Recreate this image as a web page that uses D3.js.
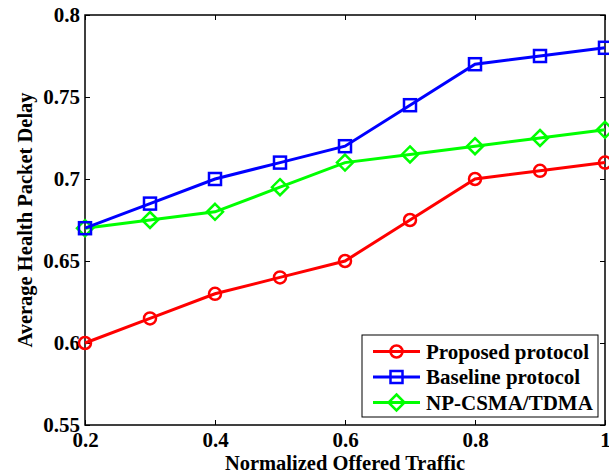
<!DOCTYPE html>
<html><head><meta charset="utf-8">
<script src="https://cdn.jsdelivr.net/npm/d3@7"></script>
<style>body{margin:0;background:#fff}svg{display:block}text{font-family:"Liberation Serif","Times New Roman",serif;font-weight:bold}</style>
</head><body><svg id="c" width="609" height="476"></svg>
<script>
const xValues = [0.2,0.3,0.4,0.5,0.6,0.7,0.8,0.9,1.0];
const proposed = [0.6,0.615,0.63,0.64,0.65,0.675,0.7,0.705,0.71];
const baseline = [0.67,0.685,0.7,0.71,0.72,0.745,0.77,0.775,0.78];
const npcsma = [0.67,0.675,0.68,0.695,0.71,0.715,0.72,0.725,0.73];
const xTicks = [0.2,0.4,0.6,0.8,1];
const yTicks = [0.55,0.6,0.65,0.7,0.75,0.8];
const seriesNames = ["Proposed protocol","Baseline protocol","NP-CSMA/TDMA"];
const seriesColors = ["#ff0000","#0000ff","#00ff00"];
const seriesMarkers = ["circle","square","diamond"];
const seriesData = [proposed, baseline, npcsma];

const svg = d3.select("#c");
const L=85,T=15,R=605,B=425;
const x = d3.scaleLinear().domain([0.2,1]).range([L,R]);
const y = d3.scaleLinear().domain([0.55,0.8]).range([B,T]);

const fmt = d => d===1 ? "1" : String(d);
const tk=5;
svg.append("g").attr("transform",`translate(0,${B})`)
  .call(d3.axisBottom(x).tickValues(xTicks).tickSize(-tk).tickPadding(7).tickFormat(fmt))
  .call(g=>{g.select(".domain").remove();g.selectAll("line").attr("stroke","#000");g.selectAll("text").attr("font-size",21).attr("fill","#000").attr("dy","0.71em");});
svg.append("g").attr("transform",`translate(0,${T})`)
  .call(d3.axisTop(x).tickValues(xTicks).tickSize(-tk).tickFormat(""))
  .call(g=>{g.select(".domain").remove();g.selectAll("line").attr("stroke","#000");});
svg.append("g").attr("transform",`translate(${L},0)`)
  .call(d3.axisLeft(y).tickValues(yTicks).tickSize(-tk).tickPadding(5).tickFormat(d=>String(d)))
  .call(g=>{g.select(".domain").remove();g.selectAll("line").attr("stroke","#000");g.selectAll("text").attr("font-size",21).attr("fill","#000");});
svg.append("g").attr("transform",`translate(${R},0)`)
  .call(d3.axisRight(y).tickValues(yTicks).tickSize(-tk).tickFormat(""))
  .call(g=>{g.select(".domain").remove();g.selectAll("line").attr("stroke","#000");});
svg.append("rect").attr("x",L).attr("y",T).attr("width",R-L).attr("height",B-T)
  .attr("fill","none").attr("stroke","#000").attr("stroke-width",1.5);

svg.append("text").attr("x",(L+R)/2).attr("y",470).attr("text-anchor","middle").attr("font-size",20.5).text("Normalized Offered Traffic");
svg.append("text").attr("transform",`translate(32,${(T+B)/2}) rotate(-90)`).attr("text-anchor","middle").attr("font-size",20.5).text("Average Health Packet Delay");

function marker(g, type, cx, cy, color){
  if(type==="circle") g.append("circle").attr("cx",cx).attr("cy",cy).attr("r",6).attr("fill","none").attr("stroke",color).attr("stroke-width",2.5);
  else if(type==="square") g.append("rect").attr("x",cx-6).attr("y",cy-6).attr("width",12).attr("height",12).attr("fill","none").attr("stroke",color).attr("stroke-width",2.5);
  else g.append("path").attr("d",`M${cx},${cy-8}L${cx+8},${cy}L${cx},${cy+8}L${cx-8},${cy}Z`).attr("fill","none").attr("stroke",color).attr("stroke-width",2.5);
}
const line = d3.line().x((d,i)=>x(xValues[i])).y(d=>y(d));
const plot = svg.append("g");
[2,1,0].forEach(s=>{
  plot.append("path").attr("d",line(seriesData[s])).attr("fill","none").attr("stroke",seriesColors[s]).attr("stroke-width",3);
  seriesData[s].forEach((v,i)=>marker(plot,seriesMarkers[s],x(xValues[i]),y(v),seriesColors[s]));
});

const lg = svg.append("g");
lg.append("rect").attr("x",362).attr("y",335).attr("width",236).attr("height",82).attr("fill","#fff").attr("stroke","#000").attr("stroke-width",1);
seriesNames.forEach((n,i)=>{
  const yy = 351.5 + i*25.5;
  lg.append("line").attr("x1",373).attr("x2",420).attr("y1",yy).attr("y2",yy).attr("stroke",seriesColors[i]).attr("stroke-width",3);
  marker(lg, seriesMarkers[i], 396.5, yy, seriesColors[i]);
  lg.append("text").attr("x",426).attr("y",yy).attr("dy","0.35em").attr("font-size",21).text(n);
});
</script></body></html>
